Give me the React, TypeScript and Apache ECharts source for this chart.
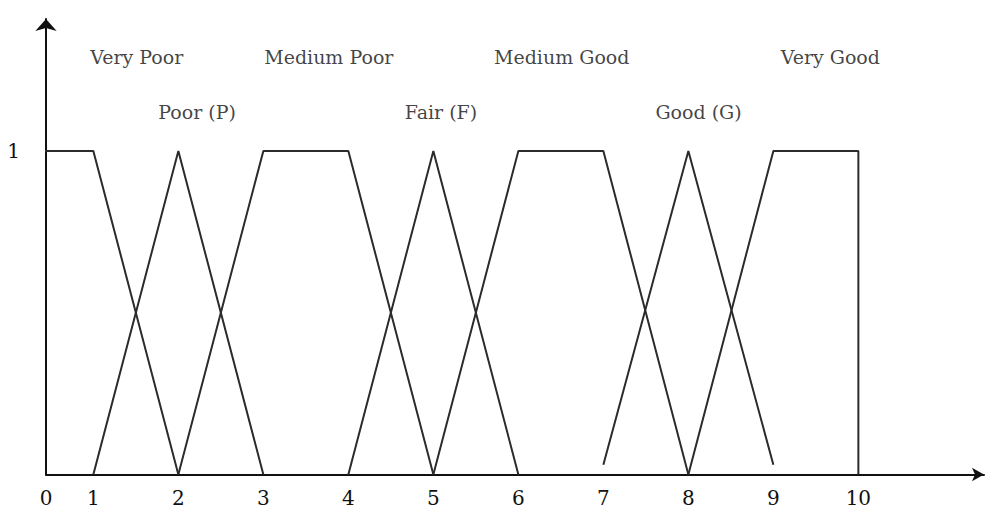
import React, { useEffect, useRef } from "react";
import * as echarts from "echarts";

// Linguistic terms: membership functions on the 0-10 scale
const veryPoor = [[0, 1], [1, 1], [2, 0]];
const poor = [[1, 0], [2, 1], [3, 0]];
const mediumPoor = [[2, 0], [3, 1], [4, 1], [5, 0]];
const fair = [[4, 0], [5, 1], [6, 0]];
const mediumGood = [[5, 0], [6, 1], [7, 1], [8, 0]];
const good = [[7, 0.03], [8, 1], [9, 0.03]];
const veryGood = [[8, 0], [9, 1], [10, 1], [10, 0]];

// Term captions and where they sit (data coordinates)
const termNames = ["Very Poor", "Medium Poor", "Medium Good", "Very Good", "Poor (P)", "Fair (F)", "Good (G)"];
const termLabelX = [1.51, 3.77, 6.51, 9.67, 2.22, 5.09, 8.12];
const termLabelY = [1.29, 1.29, 1.29, 1.29, 1.12, 1.12, 1.12];

// Axis
const xTickValues = [0, 1, 2, 3, 4, 5, 6, 7, 8, 9, 10];
const yTickValues = [1];
const X_MIN = 0.443;
const X_MAX = 11.478;
const Y_MAX = 1.4076;

const LINE_COLOR = "#2b2b2b";
const FONT = "'DejaVu Serif', 'Liberation Serif', serif";

export default function App() {
  const ref = useRef<HTMLDivElement>(null);
  useEffect(() => {
    if (!ref.current) return;
    const chart = echarts.init(ref.current, undefined, { renderer: "svg" });
    const seriesData = [veryPoor, poor, mediumPoor, fair, mediumGood, good, veryGood];
    const lineSeries = seriesData.map((d) => ({
      type: "line",
      data: d,
      showSymbol: false,
      symbol: "none",
      clip: true,
      silent: true,
      lineStyle: { color: LINE_COLOR, width: 2 },
    }));
    chart.setOption({
      animation: false,
      grid: {
        left: 46,
        top: 19,
        width: 938,
        height: 455.5,
        containLabel: false,
        outerBoundsMode: "none",
      },
      xAxis: {
        type: "value",
        min: X_MIN,
        max: X_MAX,
        splitLine: { show: false },
        axisTick: { show: false },
        axisLine: {
          show: true,
          symbol: ["none", "arrow"],
          symbolSize: [10, 12],
          lineStyle: { color: "#111", width: 2 },
        },
        axisLabel: {
          customValues: xTickValues.map((v) => (v === 0 ? X_MIN : v)),
          formatter: (v: number) => (v < 0.5 ? "0" : String(Math.round(v))),
          color: "#111",
          fontFamily: FONT,
          fontSize: 20,
          margin: 13,
        },
      },
      yAxis: {
        type: "value",
        min: 0,
        max: Y_MAX,
        splitLine: { show: false },
        axisTick: { show: false },
        axisLine: {
          show: true,
          symbol: ["none", "arrow"],
          symbolSize: [16, 12],
          lineStyle: { color: "#111", width: 2 },
        },
        axisLabel: {
          customValues: yTickValues,
          formatter: (v: number) => String(v),
          color: "#111",
          fontFamily: FONT,
          fontSize: 20,
          margin: 26,
        },
      },
      series: [
        ...lineSeries,
        {
          type: "scatter",
          silent: true,
          symbolSize: 1,
          itemStyle: { color: "transparent" },
          label: {
            show: true,
            position: "inside",
            formatter: (p: any) => p.name,
            color: "#111",
            fontFamily: FONT,
            fontSize: 19,
          },
          data: termNames.map((n, i) => ({ name: n, value: [termLabelX[i], termLabelY[i]] })),
        },
      ],
    });
    return () => chart.dispose();
  }, []);
  return (
    <div
      ref={ref}
      style={{ position: "fixed", left: 0, top: 0, width: 992, height: 509, background: "#fff" }}
    />
  );
}
